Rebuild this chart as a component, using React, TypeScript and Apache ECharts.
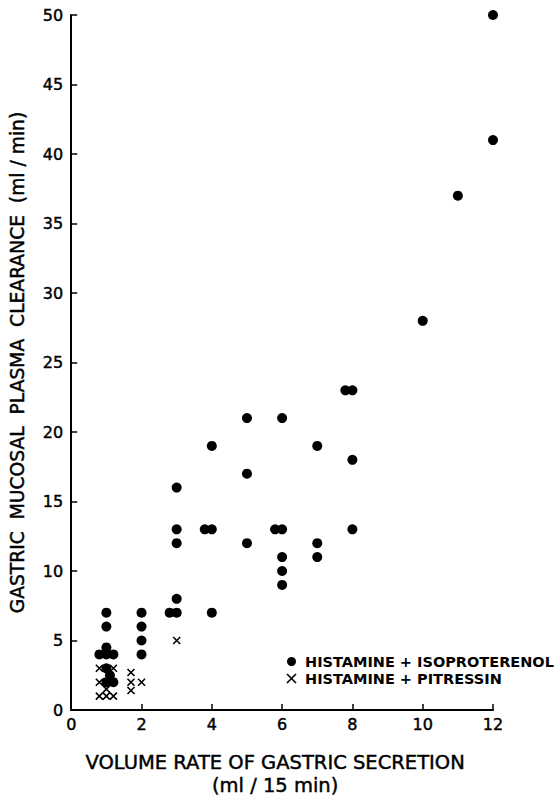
import React, { useEffect, useRef } from "react";
import * as echarts from "echarts";

// Histamine + Isoproterenol (filled dots): [volume rate, clearance]
const isoproterenol: [number, number][] = [
  [12, 50], [12, 41], [11, 37], [10, 28],
  [7.8, 23], [8, 23], [5, 21], [6, 21], [4, 19], [7, 19], [8, 18], [5, 17],
  [3, 16], [3, 13], [3.8, 13], [4, 13], [5.8, 13], [6, 13], [8, 13],
  [3, 12], [5, 12], [7, 12], [6, 11], [7, 11], [6, 10], [6, 9],
  [3, 8], [2.8, 7], [3, 7], [4, 7], [1, 7], [2, 7], [1, 6], [2, 6], [2, 5], [2, 4],
  [1, 4.5], [0.8, 4], [1, 4], [1.2, 4], [1, 3], [1.1, 2.5], [1, 2], [1.2, 2],
];

// Histamine + Pitressin (crosses)
const pitressin: [number, number][] = [
  [0.8, 3], [1.2, 3], [0.8, 2], [1, 1.5], [0.8, 1], [1, 1], [1.2, 1],
  [1.7, 2.7], [1.7, 2], [1.7, 1.4], [2, 2], [3, 5],
];

const seriesNames = ["HISTAMINE + ISOPROTERENOL", "HISTAMINE + PITRESSIN"];
const xTitle = "VOLUME RATE OF GASTRIC SECRETION\n(ml / 15 min)";
const yTitle = "GASTRIC  MUCOSAL  PLASMA  CLEARANCE  (ml / min)";

const FONT = "DejaVu Sans";
const CROSS = "path://M0,0L10,10M10,0L0,10";
const heavy = { textBorderColor: "#000", textBorderWidth: 0.45 };

export default function App() {
  const ref = useRef<HTMLDivElement>(null);
  useEffect(() => {
    document.body.style.margin = "0";
    const chart = echarts.init(ref.current!, null, { renderer: "svg" });
    chart.setOption({
      animation: false,
      backgroundColor: "#ffffff",
      textStyle: { fontFamily: FONT, color: "#000" },
      grid: { left: 70.5, right: 65, top: 15, bottom: 83, containLabel: false },
      legend: {
        orient: "vertical",
        left: 279.5,
        top: 649,
        itemWidth: 9,
        itemHeight: 9,
        itemGap: 2,
        textStyle: {
          fontFamily: FONT,
          fontSize: 14.5,
          fontWeight: "bold",
          color: "#000",
          lineHeight: 15,
          padding: [0, 0, 0, 4],
        },
        data: [
          { name: seriesNames[0], icon: "circle", itemStyle: { color: "#000" } },
          {
            name: seriesNames[1],
            icon: CROSS,
            itemStyle: { color: "none", borderColor: "#000", borderWidth: 1.6 },
          },
        ],
      },
      xAxis: {
        type: "value",
        min: 0,
        max: 12,
        interval: 2,
        splitLine: { show: false },
        axisLine: { show: true, lineStyle: { color: "#000", width: 2 } },
        axisTick: { show: true, inside: true, length: 6, lineStyle: { color: "#000", width: 1.5 } },
        axisLabel: { fontFamily: FONT, fontSize: 16, color: "#000", margin: 6, ...heavy },
        name: xTitle,
        nameLocation: "middle",
        nameGap: 41,
        nameTextStyle: {
          fontFamily: FONT,
          fontSize: 19.5,
          color: "#000",
          lineHeight: 23,
          padding: [0, 14, 0, 0],
          ...heavy,
        },
      },
      yAxis: {
        type: "value",
        min: 0,
        max: 50,
        interval: 5,
        splitLine: { show: false },
        axisLine: { show: true, lineStyle: { color: "#000", width: 2 } },
        axisTick: { show: true, inside: true, length: 6, lineStyle: { color: "#000", width: 1.5 } },
        axisLabel: { fontFamily: FONT, fontSize: 16, color: "#000", margin: 8, ...heavy },
        name: yTitle,
        nameLocation: "middle",
        nameGap: 44,
        nameTextStyle: { fontFamily: FONT, fontSize: 18.7, color: "#000", ...heavy },
      },
      series: [
        {
          name: seriesNames[0],
          type: "scatter",
          data: isoproterenol,
          symbol: "circle",
          symbolSize: 10,
          clip: false,
          itemStyle: { color: "#000", opacity: 1 },
        },
        {
          name: seriesNames[1],
          type: "scatter",
          data: pitressin,
          symbol: CROSS,
          symbolSize: 7,
          clip: false,
          itemStyle: { color: "none", borderColor: "#000", borderWidth: 1.6, opacity: 1 },
        },
      ],
    });
    return () => chart.dispose();
  }, []);
  return <div ref={ref} style={{ width: 558, height: 802 }} />;
}
